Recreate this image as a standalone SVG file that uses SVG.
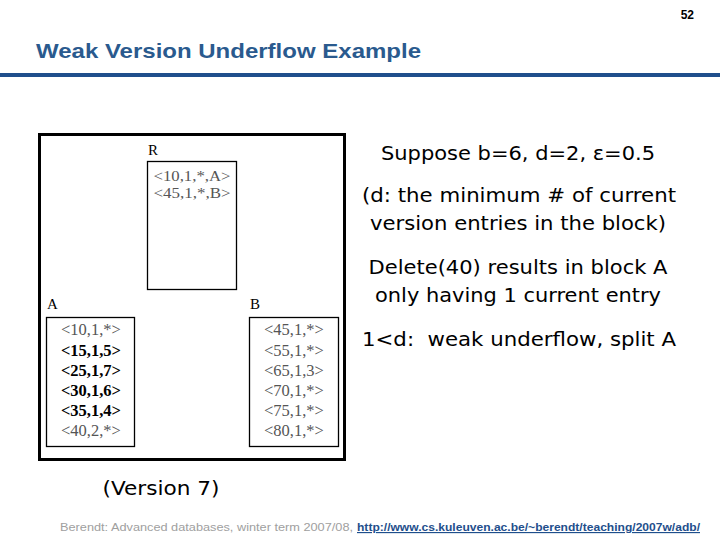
<svg xmlns="http://www.w3.org/2000/svg" width="720" height="540" viewBox="0 0 720 540">
<style>
.rt{font-family:"DejaVu Sans",Verdana,sans-serif;font-size:20px;fill:#000;text-anchor:middle}
.sf{font-family:"Liberation Serif","Times New Roman",serif;font-size:16.5px}
.rs{font-family:"Liberation Serif","Times New Roman",serif;font-size:15px}
.lb{font-family:"Liberation Serif","Times New Roman",serif;font-size:15px}
.g{fill:#555}
.b{fill:#000;font-weight:bold}
.box{fill:#fff;stroke:#000;stroke-width:1.3}
</style>
<rect width="720" height="540" fill="#fff"/>
<text x="694" y="19" font-family="Liberation Sans,Arial,sans-serif" font-size="12" font-weight="bold" text-anchor="end">52</text>
<text x="36" y="58" font-family="Liberation Sans,Arial,sans-serif" font-size="21" font-weight="bold" fill="#2a5a8e" textLength="385" lengthAdjust="spacingAndGlyphs">Weak Version Underflow Example</text>
<rect x="0" y="73" width="720" height="4" fill="#1f4f8c"/>
<g id="frame"><rect x="39.5" y="134.5" width="305" height="325" fill="#fff" stroke="#000" stroke-width="3"/></g>
<g id="R">
<text class="lb" x="148" y="155">R</text>
<rect class="box" x="147.5" y="161.5" width="89" height="128"/>
<text class="rs g" x="192" y="181" text-anchor="middle" textLength="77" lengthAdjust="spacingAndGlyphs">&lt;10,1,*,A&gt;</text>
<text class="rs g" x="192" y="198" text-anchor="middle" textLength="77" lengthAdjust="spacingAndGlyphs">&lt;45,1,*,B&gt;</text>
</g>
<g id="A">
<text class="lb" x="47" y="309">A</text>
<rect class="box" x="46.5" y="317.5" width="88" height="129"/>
<text class="sf g" x="91" y="335" text-anchor="middle">&lt;10,1,*&gt;</text>
<text class="sf b" x="91" y="356" text-anchor="middle">&lt;15,1,5&gt;</text>
<text class="sf b" x="91" y="376" text-anchor="middle">&lt;25,1,7&gt;</text>
<text class="sf b" x="91" y="396" text-anchor="middle">&lt;30,1,6&gt;</text>
<text class="sf b" x="91" y="416" text-anchor="middle">&lt;35,1,4&gt;</text>
<text class="sf g" x="91" y="436" text-anchor="middle">&lt;40,2,*&gt;</text>
</g>
<g id="B">
<text class="lb" x="250" y="309">B</text>
<rect class="box" x="249.5" y="317.5" width="89" height="129"/>
<text class="sf g" x="294" y="335" text-anchor="middle">&lt;45,1,*&gt;</text>
<text class="sf g" x="294" y="356" text-anchor="middle">&lt;55,1,*&gt;</text>
<text class="sf g" x="294" y="376" text-anchor="middle">&lt;65,1,3&gt;</text>
<text class="sf g" x="294" y="396" text-anchor="middle">&lt;70,1,*&gt;</text>
<text class="sf g" x="294" y="416" text-anchor="middle">&lt;75,1,*&gt;</text>
<text class="sf g" x="294" y="436" text-anchor="middle">&lt;80,1,*&gt;</text>
</g>
<g id="connectors"></g>
<g id="notes">
<text class="rt" x="518" y="160" textLength="274" lengthAdjust="spacingAndGlyphs">Suppose b=6, d=2, ε=0.5</text>
<text class="rt" x="519" y="202" textLength="314" lengthAdjust="spacingAndGlyphs">(d: the minimum # of current</text>
<text class="rt" x="518" y="230" textLength="296" lengthAdjust="spacingAndGlyphs">version entries in the block)</text>
<text class="rt" x="518" y="274" textLength="299" lengthAdjust="spacingAndGlyphs">Delete(40) results in block A</text>
<text class="rt" x="518" y="302" textLength="286" lengthAdjust="spacingAndGlyphs">only having 1 current entry</text>
<text class="rt" x="519" y="346" textLength="314" lengthAdjust="spacingAndGlyphs" xml:space="preserve">1&lt;d:  weak underflow, split A</text>
<text class="rt" x="161" y="495" textLength="117" lengthAdjust="spacingAndGlyphs">(Version 7)</text>
</g>
<text x="60" y="531" font-family="Liberation Sans,Arial,sans-serif" font-size="11.5" fill="#a0a0a0" textLength="293" lengthAdjust="spacingAndGlyphs">Berendt: Advanced databases, winter term 2007/08,</text>
<text x="357" y="531" font-family="Liberation Sans,Arial,sans-serif" font-size="11.5" font-weight="bold" fill="#1f4f8c" text-decoration="underline" textLength="343" lengthAdjust="spacingAndGlyphs">http://www.cs.kuleuven.ac.be/~berendt/teaching/2007w/adb/</text>
</svg>
